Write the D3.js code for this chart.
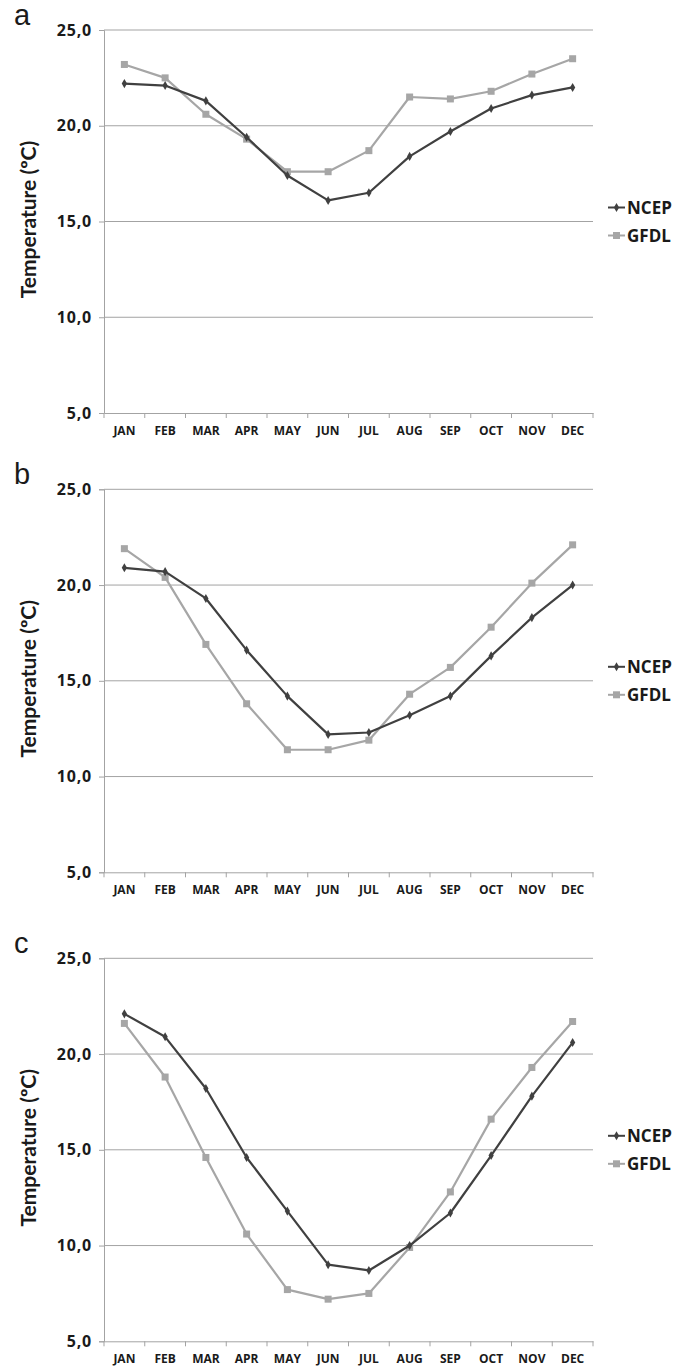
<!DOCTYPE html>
<html>
<head>
<meta charset="utf-8">
<script src="https://cdn.jsdelivr.net/npm/d3@7"></script>
<style>
  html, body { margin: 0; padding: 0; background: #fff; }
  svg { display: block; }
</style>
</head>
<body>
<svg id="chart" width="691" height="1369"></svg>
<script>
const months = ["JAN","FEB","MAR","APR","MAY","JUN","JUL","AUG","SEP","OCT","NOV","DEC"];
const yTicks = [5, 10, 15, 20, 25];
const panelLetters = ["a", "b", "c"];
const seriesNames = ["NCEP", "GFDL"];

const ncepA = [22.2, 22.1, 21.3, 19.4, 17.4, 16.1, 16.5, 18.4, 19.7, 20.9, 21.6, 22.0];
const gfdlA = [23.2, 22.5, 20.6, 19.3, 17.6, 17.6, 18.7, 21.5, 21.4, 21.8, 22.7, 23.5];
const ncepB = [20.9, 20.7, 19.3, 16.6, 14.2, 12.2, 12.3, 13.2, 14.2, 16.3, 18.3, 20.0];
const gfdlB = [21.9, 20.4, 16.9, 13.8, 11.4, 11.4, 11.9, 14.3, 15.7, 17.8, 20.1, 22.1];
const ncepC = [22.1, 20.9, 18.2, 14.6, 11.8, 9.0, 8.7, 10.0, 11.7, 14.7, 17.8, 20.6];
const gfdlC = [21.6, 18.8, 14.6, 10.6, 7.7, 7.2, 7.5, 9.9, 12.8, 16.6, 19.3, 21.7];

const panels = [
  { letter: panelLetters[0], ncep: ncepA, gfdl: gfdlA, top: 30 },
  { letter: panelLetters[1], ncep: ncepB, gfdl: gfdlB, top: 489.3 },
  { letter: panelLetters[2], ncep: ncepC, gfdl: gfdlC, top: 958.3 }
];

const colors = { NCEP: "#404040", GFDL: "#a6a6a6" };
const gridColor = "#a3a3a3";
const left = 104, right = 593, plotH = 383;
const fontBold = "'Open Sans', 'DejaVu Sans', sans-serif";
const fontTitle = "Lato, 'Open Sans', sans-serif";

const svg = d3.select("#chart");

const x = d3.scaleBand().domain(months).range([left, right]).padding(0);

function drawMarker(g, name, cx, cy) {
  if (name === "NCEP") {
    g.append("path")
      .attr("d", d3.symbol().type(d3.symbolDiamond).size(24)())
      .attr("transform", `translate(${cx},${cy})`)
      .attr("fill", colors.NCEP);
  } else {
    g.append("rect")
      .attr("x", cx - 3.5).attr("y", cy - 3.5)
      .attr("width", 7).attr("height", 7)
      .attr("fill", colors.GFDL);
  }
}

panels.forEach(p => {
  const y = d3.scaleLinear().domain([5, 25]).range([p.top + plotH, p.top]);
  const g = svg.append("g");

  // gridlines
  g.selectAll(".grid").data(yTicks.filter(t => t > 5)).enter()
    .append("line")
    .attr("x1", left).attr("x2", right)
    .attr("y1", d => y(d)).attr("y2", d => y(d))
    .attr("stroke", gridColor).attr("stroke-width", 1);

  // y axis
  const yAxis = d3.axisLeft(y).tickValues(yTicks).tickSize(5).tickPadding(7)
    .tickFormat(d => d3.format(".1f")(d).replace(".", ","));
  const ya = g.append("g").attr("transform", `translate(${left},0)`).call(yAxis);
  ya.select(".domain").attr("stroke", gridColor);
  ya.selectAll(".tick line").attr("stroke", gridColor);
  ya.selectAll(".tick text")
    .attr("font-family", fontBold).attr("font-weight", "bold")
    .attr("font-size", 16).attr("fill", "#1a1a1a").attr("letter-spacing", 0.8);

  // x axis
  const xa = g.append("g").attr("transform", `translate(0,${p.top + plotH})`)
    .call(d3.axisBottom(x).tickSize(0).tickPadding(13));
  xa.select(".domain").attr("stroke", gridColor);
  xa.selectAll(".tick text")
    .attr("font-family", fontBold).attr("font-weight", "bold")
    .attr("font-size", 12).attr("fill", "#1a1a1a");
  // category boundary ticks
  const bounds = months.map(m => x(m)).concat([right]);
  g.selectAll(".xtick").data(bounds).enter().append("line")
    .attr("x1", d => d).attr("x2", d => d)
    .attr("y1", p.top + plotH).attr("y2", p.top + plotH + 5)
    .attr("stroke", gridColor);

  // lines
  const line = d3.line().x((d, i) => x(months[i]) + x.bandwidth() / 2).y(d => y(d));
  [["GFDL", p.gfdl], ["NCEP", p.ncep]].forEach(([name, vals]) => {
    g.append("path").datum(vals)
      .attr("d", line).attr("fill", "none")
      .attr("stroke", colors[name]).attr("stroke-width", 2.2)
      .attr("stroke-linejoin", "round");
    vals.forEach((v, i) => drawMarker(g, name, x(months[i]) + x.bandwidth() / 2, y(v)));
  });

  // y title
  const midY = p.top + plotH / 2;
  g.append("text")
    .attr("transform", `translate(27,${midY - 2}) rotate(-90)`)
    .attr("text-anchor", "middle").attr("dominant-baseline", "central")
    .attr("font-family", fontTitle).attr("font-weight", "bold")
    .attr("font-size", 21).attr("fill", "#1a1a1a")
    .text("Temperature (ºC)");

  // panel letter
  g.append("text")
    .attr("x", 14).attr("y", p.top - 5)
    .attr("font-family", "'Liberation Sans', Arial, sans-serif")
    .attr("font-size", 29).attr("fill", "#1a1a1a")
    .text(p.letter);

  // legend
  seriesNames.forEach((name, i) => {
    const ly = midY - 14 + i * 28;
    g.append("line").attr("x1", 608).attr("x2", 625).attr("y1", ly).attr("y2", ly)
      .attr("stroke", colors[name]).attr("stroke-width", 2);
    drawMarker(g, name, 616.5, ly);
    g.append("text")
      .attr("x", 627).attr("y", ly)
      .attr("dominant-baseline", "central")
      .attr("font-family", fontBold).attr("font-weight", "bold")
      .attr("font-size", 17).attr("fill", "#1a1a1a")
      .text(name);
  });
});
</script>
</body>
</html>
